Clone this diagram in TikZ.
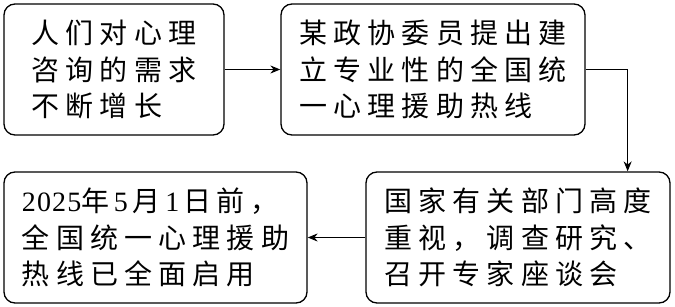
\documentclass[tikz,border=0pt]{standalone}
\usepackage{fontspec}
\newfontfamily\cjk[LetterSpace=22]{Noto Sans CJK SC}
\newfontfamily\dg[LetterSpace=4]{Liberation Serif}
\usetikzlibrary{arrows.meta}
\begin{document}
\begin{tikzpicture}[x=1pt,y=-1pt,
  box/.style={draw, line width=1.3pt, rounded corners=11pt, minimum height=131pt,
    inner sep=0pt, align=left, font=\cjk\fontsize{28}{36.5}\selectfont},
  arr/.style={line width=1.2pt, -{Stealth[length=10pt,width=8pt]}}]
\useasboundingbox (0,0) rectangle (675,307);
\node[box, minimum width=220pt] (b1) at (114,69.5) {人们对心理\\咨询的需求\\不断增长};
\node[box, minimum width=304pt] (b2) at (433,69.5) {某政协委员提出建\\立专业性的全国统\\一心理援助热线};
\node[box, minimum width=304pt] (b3) at (518,237.5) {国家有关部门高度\\重视，调查研究、\\召开专家座谈会};
\node[box, minimum width=303pt] (b4) at (155.5,237.5) {{\dg 2025}年{\dg\,5\,}月{\dg\,1\,}日\,前，\\全国统一心理援助\\热线已全面启用};
\draw[arr] (b1.east) -- (b2.west);
\draw[arr] (b2.east) -| ([xshift=-43pt]b3.north east);
\draw[arr] (b3.west) -- (b4.east);
\end{tikzpicture}
\end{document}
